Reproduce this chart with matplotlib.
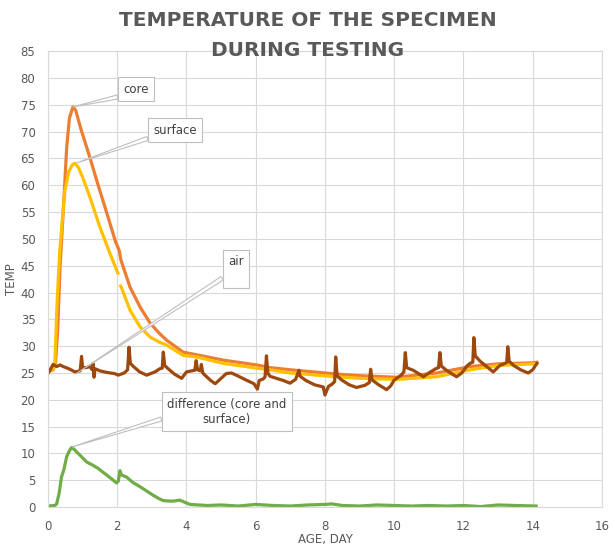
import numpy as np
import matplotlib
matplotlib.use("Agg")
import matplotlib.pyplot as plt

# temperatures (age in days, temp in deg C)
core_day = [0, 0.15, 0.22, 0.28, 0.35, 0.44, 0.54, 0.62, 0.72, 0.80, 0.95, 1.21, 1.45,
            1.70, 1.95, 2.06, 2.10, 2.37, 2.66, 2.95, 3.20, 3.43, 3.90, 4.29, 5.06, 6.03,
            6.41, 7.0, 8.34, 9.0, 10.07, 11.23, 12.19, 13.0, 14.0, 14.12]
core_temp = [25.2, 25.6, 27.0, 33.0, 45.0, 55.0, 67.0, 72.5, 74.6, 74.0, 70.5, 65.2, 60.0,
             54.8, 49.5, 47.8, 46.2, 41.0, 37.3, 34.3, 32.5, 31.1, 28.9, 28.4, 27.4, 26.5,
             26.0, 25.6, 24.8, 24.5, 24.2, 25.0, 26.2, 26.7, 26.9, 27.0]

surf_day = [0, 0.15, 0.20, 0.25, 0.30, 0.35, 0.42, 0.49, 0.60, 0.70, 0.78, 0.88, 1.0, 1.21,
            1.50, 1.79, 2.02, 2.06, 2.10, 2.13, 2.37, 2.66, 2.95, 3.20, 3.43, 3.90, 4.29,
            5.06, 6.03, 6.41, 7.0, 8.34, 9.0, 10.07, 11.23, 12.19, 13.0, 14.0, 14.12]
surf_temp = [25.2, 25.8, 26.8, 36.0, 43.0, 48.5, 54.0, 59.0, 62.5, 63.8, 64.1, 63.3, 61.5,
             57.8, 52.2, 47.3, 43.6, np.nan, 41.2, 40.8, 36.7, 33.6, 31.7, 30.8, 30.2, 28.3,
             28.0, 26.8, 25.9, 25.6, 25.0, 24.3, 24.0, 23.8, 24.3, 25.6, 26.4, 26.7, 26.8]

air_day = [0.00, 0.08, 0.15, 0.25, 0.35, 0.44, 0.60, 0.78, 0.93, 0.97, 1.00, 1.10, 1.21,
           1.28, 1.30, 1.33, 1.36, 1.50, 1.63, 1.80, 1.92, 2.03, 2.20, 2.30, 2.34, 2.38,
           2.47, 2.65, 2.85, 3.09, 3.23, 3.30, 3.33, 3.37, 3.47, 3.65, 3.86, 4.00, 4.15,
           4.24, 4.28, 4.32, 4.40, 4.43, 4.47, 4.55, 4.70, 4.83, 5.00, 5.15, 5.30, 5.47,
           5.75, 5.95, 6.05, 6.10, 6.22, 6.27, 6.31, 6.35, 6.41, 6.60, 6.80, 6.99, 7.15,
           7.25, 7.28, 7.45, 7.70, 7.95, 8.00, 8.10, 8.20, 8.28, 8.31, 8.35, 8.48, 8.70,
           8.91, 9.15, 9.28, 9.32, 9.36, 9.55, 9.78, 9.90, 10.00, 10.20, 10.28, 10.32,
           10.36, 10.55, 10.70, 10.84, 11.00, 11.20, 11.28, 11.32, 11.36, 11.51, 11.65,
           11.80, 11.95, 12.10, 12.19, 12.27, 12.30, 12.34, 12.48, 12.65, 12.86, 13.05,
           13.20, 13.25, 13.28, 13.32, 13.45, 13.65, 13.87, 14.00, 14.12]
air_temp = [24.9, 25.8, 26.6, 26.2, 26.5, 26.2, 25.8, 25.2, 25.4, 28.1, 26.0, 26.0, 26.2,
            25.6, 26.8, 24.2, 25.8, 25.4, 25.2, 25.0, 24.9, 24.6, 25.0, 25.6, 29.8, 26.8,
            26.2, 25.2, 24.6, 25.2, 25.8, 25.9, 28.9, 26.4, 25.8, 24.8, 24.0, 25.2, 25.4,
            25.5, 27.3, 25.6, 25.4, 26.6, 25.0, 24.5, 23.6, 23.0, 24.0, 24.9, 25.0, 24.5,
            23.6, 23.0, 22.0, 23.6, 23.9, 24.3, 28.2, 25.0, 24.4, 24.0, 23.6, 23.1, 23.8,
            25.5, 24.4, 23.6, 22.8, 22.4, 20.9, 22.5, 22.9, 23.4, 28.0, 24.5, 23.7, 22.8,
            22.3, 22.7, 23.2, 25.7, 23.7, 22.8, 21.9, 22.6, 23.7, 24.6, 25.2, 28.8,
            26.0, 25.5, 24.9, 24.3, 25.0, 25.8, 26.0, 28.8, 26.3, 25.5, 24.9,
            24.3, 25.0, 26.3, 26.8, 27.0, 31.6, 28.2, 27.2, 26.3, 25.2, 26.4,
            26.8, 27.0, 29.9, 27.2, 26.4, 25.6, 25.0, 25.6, 26.8]

diff_day = [0, 0.20, 0.25, 0.32, 0.39, 0.46, 0.54, 0.62, 0.68, 0.75, 0.92, 1.12, 1.30, 1.45,
            1.69, 1.85, 1.98, 2.03, 2.08, 2.12, 2.27, 2.45, 2.66, 2.85, 3.04, 3.20, 3.33,
            3.60, 3.81, 3.95, 4.10, 4.60, 5.0, 5.5, 6.0, 6.5, 7.0, 7.5, 8.0, 8.2, 8.5, 9.0,
            9.5, 10.0, 10.5, 11.0, 11.5, 12.0, 12.5, 13.0, 13.5, 14.1]
diff_temp = [0.2, 0.3, 0.6, 2.5, 5.6, 7.0, 9.4, 10.5, 11.1, 10.8, 9.7, 8.4, 7.8, 7.2,
             6.0, 5.2, 4.5, 4.8, 6.8, 6.0, 5.6, 4.6, 3.8, 3.0, 2.2, 1.6, 1.2,
             1.1, 1.3, 0.9, 0.5, 0.3, 0.4, 0.2, 0.5, 0.3, 0.2, 0.4, 0.5, 0.6, 0.3, 0.2,
             0.4, 0.3, 0.2, 0.3, 0.2, 0.3, 0.1, 0.4, 0.3, 0.2]

grey = '#595959'
fig = plt.figure(figsize=(6.15, 5.5), dpi=100)
ax = fig.add_axes([0.078, 0.078, 0.9008, 0.829])

ax.plot(core_day, core_temp, color='#ED7D31', lw=2.3)
ax.plot(surf_day, surf_temp, color='#FFC000', lw=2.3)
ax.plot(air_day, air_temp, color='#9E480E', lw=2.3)
ax.plot(diff_day, diff_temp, color='#70AD47', lw=2.3)

ax.set_xlim(0, 16)
ax.set_ylim(0, 85)
ax.set_xticks(np.arange(0, 17, 2))
ax.set_yticks(np.arange(0, 86, 5))
ax.grid(True, color='#d9d9d9', lw=0.8)
ax.set_axisbelow(True)
for s in ax.spines.values():
    s.set_color('#d9d9d9')
    s.set_linewidth(0.8)
ax.tick_params(length=0, labelsize=8.5, labelcolor=grey)
ax.tick_params(axis='y', pad=9)
ax.tick_params(axis='x', pad=9)
ax.set_xlabel('AGE, DAY', fontsize=8.5, color=grey, labelpad=0)
ax.set_ylabel('TEMP', fontsize=8.5, color=grey, labelpad=2)

fig.text(0.5, 0.98, 'TEMPERATURE OF THE SPECIMEN\nDURING TESTING', ha='center', va='top',
         fontsize=14.5, fontweight='bold', color=grey, linespacing=1.7)

# data callouts
box = dict(boxstyle='square,pad=0.45', fc='white', ec='#bfbfbf', lw=0.8)
lead = dict(arrowstyle='wedge,tail_width=0.35', fc='white', ec='#bfbfbf', lw=0.8,
            shrinkA=0, shrinkB=0)
callouts = [
    ('core', (0.72, 74.6), (2.54, 77.9), (0, 0)),
    ('surface', (0.80, 64.1), (3.67, 70.3), (0, 0)),
    ('air\n ', (0.84, 25.0), (5.42, 44.4), (0, 0.3)),
    ('difference (core and\nsurface)', (0.69, 11.2), (5.16, 17.8), (0, 0.3)),
]
for txt, pt, pos, rp in callouts:
    lp = dict(lead, relpos=rp)
    ax.annotate(txt, xy=pt, xytext=pos, ha='center', va='center', fontsize=8.5,
                color='#404040', bbox=box, arrowprops=lp, multialignment='center')

fig.savefig('out.png', dpi=100)
